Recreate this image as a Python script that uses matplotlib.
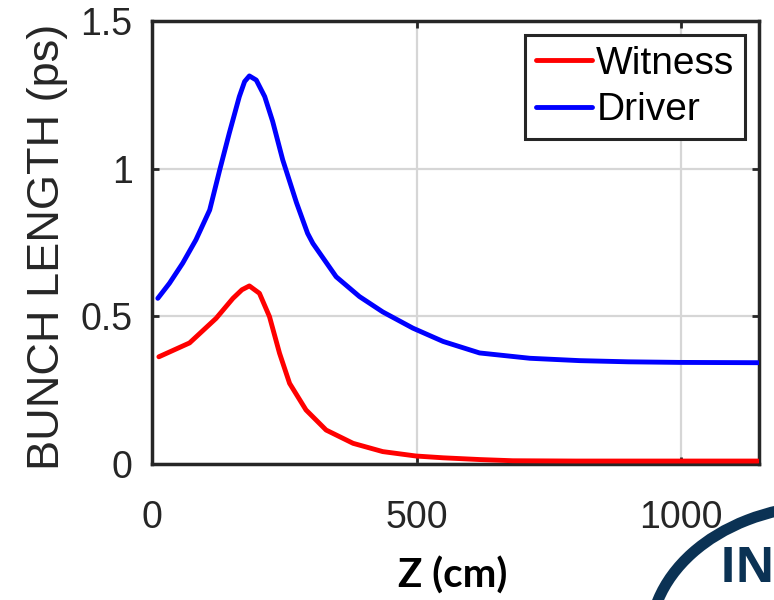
import matplotlib
matplotlib.use("Agg")
import matplotlib.pyplot as plt
from matplotlib.patches import Arc

# ---------------------------------------------------------------------------
# Data
# ---------------------------------------------------------------------------
driver_z = [11, 33, 58, 83, 109, 128, 146, 165, 175, 184, 197, 213, 228, 247,
            273, 294, 304, 348, 392, 436, 493, 550, 619, 714, 808, 900, 997, 1145]
driver_len = [0.561, 0.612, 0.680, 0.759, 0.860, 0.996, 1.12, 1.244, 1.295,
              1.314, 1.30, 1.244, 1.16, 1.03, 0.885, 0.781, 0.747, 0.634,
              0.567, 0.515, 0.46, 0.415, 0.376, 0.358, 0.350, 0.346, 0.344, 0.343]

witness_z = [13, 71, 121, 153, 170, 184, 203, 222, 241, 260, 291, 329, 380,
             436, 499, 550, 620, 682, 800, 1000, 1145]
witness_len = [0.363, 0.41, 0.493, 0.561, 0.59, 0.603, 0.578, 0.499, 0.375,
               0.273, 0.183, 0.115, 0.070, 0.042, 0.027, 0.021, 0.015, 0.011,
               0.01, 0.01, 0.01]

x_ticks = [0, 500, 1000]
y_ticks = [0, 0.5, 1, 1.5]
y_ticklabels = ["0", "0.5", "1", "1.5"]

# ---------------------------------------------------------------------------
# Figure
# ---------------------------------------------------------------------------
plt.rcParams["font.family"] = ["Liberation Sans", "DejaVu Sans"]
DARK = "#262626"

fig = plt.figure(figsize=(7.74, 6), dpi=100)
ax = fig.add_axes([152 / 774, 1 - 464 / 600, 607 / 774, 443 / 600])

ax.plot(witness_z, witness_len, color="#ff0000", lw=3.5, label="Witness",
        solid_joinstyle="round", solid_capstyle="round", zorder=3)
ax.plot(driver_z, driver_len, color="#0000ff", lw=3.5, label="Driver",
        solid_joinstyle="round", solid_capstyle="round", zorder=3)

ax.set_xlim(0, 1147)
ax.set_ylim(0, 1.5)
ax.set_xticks(x_ticks)
ax.set_yticks(y_ticks)
ax.set_yticklabels(y_ticklabels)
ax.grid(True, color="#d6d6d6", lw=1.6)
ax.set_axisbelow(True)

ax.tick_params(direction="in", length=5, width=2, colors=DARK,
               top=True, right=True, labelsize=27)
ax.tick_params(axis="x", pad=26)
ax.tick_params(axis="y", pad=14)
for s in ax.spines.values():
    s.set_color(DARK)
    s.set_linewidth(2.5)

ax.set_ylabel("BUNCH LENGTH (ps)", fontsize=32.5, color=DARK)
ax.yaxis.set_label_coords(-0.138, 0.49)

fig.text(453 / 774, 1 - 576 / 600, "Z (cm)", fontsize=29, fontweight="bold",
         family=["Lato", "DejaVu Sans"], ha="center", va="center", color="black")

leg = ax.legend(loc="upper right", fontsize=28, handlelength=1.45,
                handletextpad=0.1, borderpad=0.28, labelspacing=0.28,
                borderaxespad=0.35, fancybox=False, framealpha=1)
leg.get_frame().set_edgecolor(DARK)
leg.get_frame().set_linewidth(2.2)
for t in leg.get_texts():
    t.set_color("black")

# partial logo in the bottom-right corner
arc = Arc((830 / 774, 1 - 640 / 600), 360 / 774, 270 / 600, theta1=95, theta2=185,
          transform=fig.transFigure, color="#0b3254", lw=8, clip_on=False)
fig.add_artist(arc)
fig.text(720 / 774, 1 - 582 / 600, "IN", fontsize=35, fontweight="bold",
         family=["Open Sans", "DejaVu Sans"], color="#0b3254", va="baseline")

fig.savefig("out.png", dpi=100)
